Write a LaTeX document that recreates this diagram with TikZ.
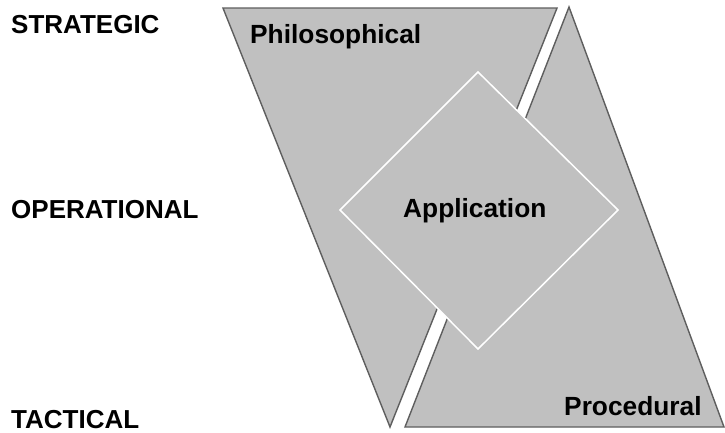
\documentclass[tikz,border=0pt]{standalone}
\usepackage{fontspec}
\setmainfont{Liberation Sans}
\begin{document}
\begin{tikzpicture}[x=1pt,y=-1pt,
  panel/.style={fill=panelgray,draw=edgegray,line width=1.4pt,line join=miter},
  core/.style={fill=panelgray,draw=white,line width=1.5pt},
  level/.style={anchor=base west,inner sep=0pt,font=\fontsize{26}{30}\selectfont\bfseries},
  tag/.style={anchor=base west,inner sep=0pt,font=\fontsize{26.3}{30}\selectfont\bfseries}]
\definecolor{panelgray}{HTML}{C0C0C0}
\definecolor{edgegray}{HTML}{5E5E5E}
\useasboundingbox (0,0) rectangle (725,432);

% inverted triangle (philosophical) and upright triangle (procedural)
\coordinate (p1) at (223,8);
\coordinate (p2) at (557,8);
\coordinate (p3) at (390,427);
\coordinate (q1) at (569,7);
\coordinate (q2) at (724,427);
\coordinate (q3) at (405,427);
\draw[panel] (p1) -- (p2) -- (p3) -- cycle;
\draw[panel] (q1) -- (q2) -- (q3) -- cycle;

% central diamond
\coordinate (d1) at (478,72);
\coordinate (d2) at (618,210);
\coordinate (d3) at (478,349);
\coordinate (d4) at (340,210);
\draw[core] (d1) -- (d2) -- (d3) -- (d4) -- cycle;

% labels
\node[level] (strategic) at (11,33) {STRATEGIC};
\node[level] (operational) at (11,218) {OPERATIONAL};
\node[level] (tactical) at (11,428) {TACTICAL};
\node[tag] (philosophical) at (250,43) {Philosophical};
\node[tag] (application) at (403,217) {Application};
\node[tag] (procedural) at (564,415) {Procedural};
\end{tikzpicture}
\end{document}
